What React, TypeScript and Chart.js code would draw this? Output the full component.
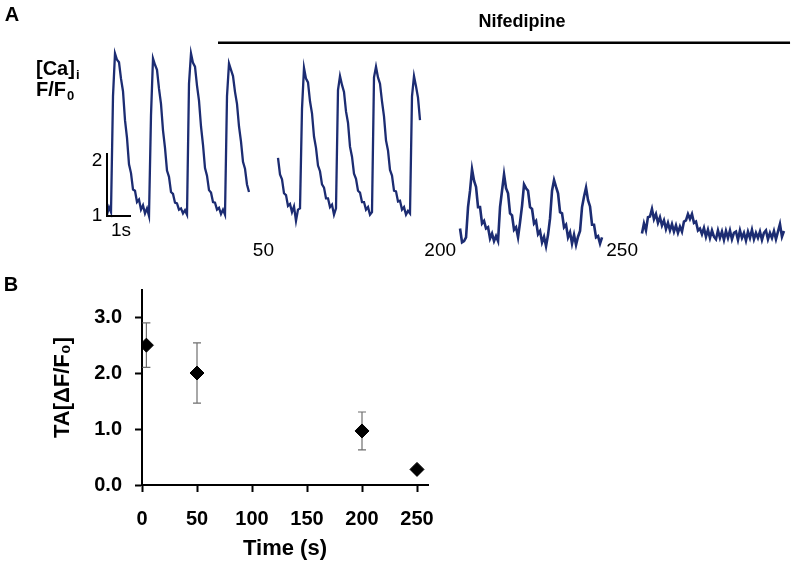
import React, { useEffect, useRef } from 'react';
import { Chart, registerables } from 'chart.js';

Chart.register(...registerables);

// ---------- Panel A: [Ca]i transients (F/F0), sampled every 1/12 s ----------
const SAMPLE_STEP = 1 / 12;
const traceStarts = [0, 7.125, 14.71, 22.29]; // display position of each segment (s)
const traceLabels = ['', '50', '200', '250'];

const ratioControl = [
  1.02, 1.14, 1.06, 2.9, 3.58, 3.48, 3.44, 3.18, 2.98, 2.52, 2.24, 1.82, 1.68, 1.42, 1.4, 1.22, 1.26, 1.1, 1.17, 1.04, 1.12, 1.0,
  2.6, 3.5, 3.4, 3.32, 3.02, 2.78, 2.36, 2.08, 1.72, 1.62, 1.38, 1.35, 1.21, 1.2, 1.1, 1.12, 1.04, 1.09, 1.02,
  3.1, 3.58, 3.43, 3.37, 3.07, 2.83, 2.42, 2.13, 1.76, 1.64, 1.41, 1.37, 1.22, 1.21, 1.1, 1.13, 1.03, 1.1, 1.02,
  2.9, 3.42, 3.32, 3.22, 2.97, 2.78, 2.42, 2.18, 1.86, 1.75, 1.5, 1.38,
];

const ratio50 = [
  1.92, 1.66, 1.58, 1.36, 1.33, 1.16, 1.19, 1.06, 1.15, 0.92, 1.1, 1.12,
  2.7, 3.35, 3.18, 3.12, 2.82, 2.63, 2.26, 2.08, 1.8, 1.71, 1.5, 1.45, 1.28, 1.28, 1.14, 1.18, 1.02, 1.12,
  3.0, 3.22, 3.08, 2.97, 2.66, 2.48, 2.1, 1.94, 1.67, 1.59, 1.4, 1.37, 1.22, 1.22, 1.1, 1.14, 1.02, 1.06,
  3.2, 3.37, 3.2, 3.1, 2.82, 2.58, 2.2, 2.04, 1.73, 1.64, 1.4, 1.39, 1.23, 1.24, 1.1, 1.14, 1.02, 1.08, 1.04,
  2.9, 3.22, 3.06, 2.88, 2.52,
];

const ratio200 = [
  0.8, 0.58, 0.6, 0.66, 1.14, 1.4, 1.74, 1.56, 1.46, 1.14, 1.14, 0.88, 0.92, 0.8, 0.82, 0.64, 0.72, 0.6, 0.68, 0.6,
  1.14, 1.4, 1.66, 1.44, 1.36, 1.04, 1.01, 0.78, 0.82, 0.66,
  0.9, 1.16, 1.5, 1.44, 1.4, 1.14, 1.11, 0.88, 0.92, 0.71, 0.76, 0.58, 0.67, 0.52, 0.7,
  0.96, 1.4, 1.57, 1.46, 1.36, 1.06, 1.04, 0.82, 0.86, 0.66, 0.74, 0.56, 0.7, 0.54, 0.67,
  0.76, 1.14, 1.31, 1.45, 1.25, 1.15, 0.86, 0.86, 0.66, 0.68, 0.56, 0.66,
];

const ratio250 = [
  0.72, 0.88, 0.77, 0.98, 0.99, 1.11, 0.95, 1.03, 0.89, 0.98, 0.85, 0.93, 0.79, 0.89, 0.77, 0.87, 0.75, 0.85, 0.73, 0.83,
  0.75, 0.91, 0.93, 1.03, 0.95, 1.03, 0.89, 0.91, 0.77, 0.8, 0.71, 0.81, 0.67, 0.78, 0.65, 0.77, 0.67, 0.63, 0.77, 0.65,
  0.75, 0.62, 0.76, 0.65, 0.77, 0.63, 0.73, 0.75, 0.62, 0.77, 0.65, 0.73, 0.61, 0.75, 0.65, 0.78, 0.63, 0.73, 0.65, 0.75,
  0.62, 0.73, 0.77, 0.63, 0.73, 0.65, 0.76, 0.63, 0.75, 0.87, 0.67, 0.76,
];

const traces = [ratioControl, ratio50, ratio200, ratio250];

// ---------- Panel B: transient amplitude vs time ----------
const timePoints = [4, 50, 200, 250];
const taMeans = [2.51, 2.01, 0.97, 0.28];
const taErrors = [0.4, 0.54, 0.34, 0.04];
const timeTicks = [0, 50, 100, 150, 200, 250];
const taTicks = [0, 1, 2, 3];

const TRACE_COLOR = '#1c2c72';
const FONT = '"Liberation Sans", Arial, sans-serif';

const panelAPlugin = {
  id: 'panelA',
  afterDraw(chart: any) {
    const { ctx, scales } = chart;
    const x = scales.x;
    const y = scales.y;
    ctx.save();
    ctx.fillStyle = '#000';
    ctx.strokeStyle = '#000';

    // panel letter
    ctx.font = `bold 20px ${FONT}`;
    ctx.textAlign = 'center';
    ctx.textBaseline = 'middle';
    ctx.fillText('A', 12, 15);

    // axis label [Ca]i  F/F0
    ctx.textAlign = 'left';
    ctx.textBaseline = 'alphabetic';
    ctx.font = `bold 20px ${FONT}`;
    ctx.fillText('[Ca]', 36, 75);
    let w = ctx.measureText('[Ca]').width;
    ctx.font = `bold 13px ${FONT}`;
    ctx.fillText('i', 36 + w + 1, 79);
    ctx.font = `bold 20px ${FONT}`;
    ctx.fillText('F/F', 36, 96);
    w = ctx.measureText('F/F').width;
    ctx.font = `bold 13px ${FONT}`;
    ctx.fillText('0', 36 + w + 1, 100);

    // scale bars
    const x0 = x.getPixelForValue(0);
    const x1 = x.getPixelForValue(1);
    const y1 = y.getPixelForValue(1);
    const y2 = y.getPixelForValue(2);
    ctx.lineWidth = 2;
    ctx.beginPath();
    ctx.moveTo(x0, y2);
    ctx.lineTo(x0, y1);
    ctx.lineTo(x1, y1);
    ctx.stroke();

    ctx.font = `19px ${FONT}`;
    ctx.textAlign = 'center';
    ctx.textBaseline = 'middle';
    ctx.fillText('2', x0 - 10, y2 + 8);
    ctx.fillText('1', x0 - 10, y1);
    ctx.fillText('1s', x0 + 14, y1 + 15);

    // segment time labels
    ctx.textAlign = 'right';
    traceStarts.forEach((s, i) => {
      if (!traceLabels[i]) return;
      ctx.fillText(traceLabels[i], x.getPixelForValue(s) - 4, y1 + 35);
    });

    // Nifedipine bar
    const nx0 = x.getPixelForValue(4.625);
    const nx1 = x.getPixelForValue(28.46);
    const ny = y.getPixelForValue(3.75);
    ctx.lineWidth = 2.5;
    ctx.beginPath();
    ctx.moveTo(nx0, ny);
    ctx.lineTo(nx1, ny);
    ctx.stroke();
    ctx.font = `bold 18px ${FONT}`;
    ctx.textAlign = 'center';
    ctx.fillText('Nifedipine', 522, ny - 21);
    ctx.restore();
  },
};

const errorBarPlugin = {
  id: 'errorBars',
  beforeDatasetsDraw(chart: any) {
    const { ctx, scales } = chart;
    const x = scales.x;
    const y = scales.y;
    ctx.save();
    ctx.strokeStyle = '#6f6f6f';
    ctx.lineWidth = 1.2;
    timePoints.forEach((t, i) => {
      const px = x.getPixelForValue(t);
      const top = y.getPixelForValue(taMeans[i] + taErrors[i]);
      const bot = y.getPixelForValue(taMeans[i] - taErrors[i]);
      ctx.beginPath();
      ctx.moveTo(px, top);
      ctx.lineTo(px, bot);
      ctx.moveTo(px - 4, top);
      ctx.lineTo(px + 4, top);
      ctx.moveTo(px - 4, bot);
      ctx.lineTo(px + 4, bot);
      ctx.stroke();
    });
    ctx.restore();
  },
  afterDraw(chart: any) {
    const { ctx } = chart;
    ctx.save();
    ctx.fillStyle = '#000';
    ctx.font = `bold 20px ${FONT}`;
    ctx.textAlign = 'center';
    ctx.textBaseline = 'middle';
    ctx.fillText('B', 11, 15);
    ctx.restore();
  },
};

export default function App() {
  const refA = useRef<HTMLCanvasElement | null>(null);
  const refB = useRef<HTMLCanvasElement | null>(null);

  useEffect(() => {
    const chartA = new Chart(refA.current as HTMLCanvasElement, {
      type: 'line',
      data: {
        datasets: traces.map((vals, k) => ({
          label: traceLabels[k] || 'control',
          data: vals.map((v, i) => ({ x: traceStarts[k] + i * SAMPLE_STEP, y: v })),
          borderColor: TRACE_COLOR,
          borderWidth: k < 2 ? 2.3 : 2.6,
          pointRadius: 0,
          tension: 0,
          fill: false,
        })),
      },
      options: {
        animation: false,
        responsive: false,
        devicePixelRatio: 1,
        layout: { padding: { left: 100, right: 8, top: 27, bottom: 10 } },
        plugins: { legend: { display: false }, tooltip: { enabled: false } },
        scales: {
          x: { type: 'linear', display: false, min: -7 / 24, max: 685 / 24 },
          y: { type: 'linear', display: false, min: 0.3, max: 4.0 },
        },
      },
      plugins: [panelAPlugin],
    } as any);

    const tickFont = { family: FONT, size: 20, weight: 'bold' as const };
    const titleFont = { family: FONT, size: 22, weight: 'bold' as const };
    const chartB = new Chart(refB.current as HTMLCanvasElement, {
      type: 'scatter',
      data: {
        datasets: [
          {
            label: 'TA',
            data: timePoints.map((t, i) => ({ x: t, y: taMeans[i] })),
            pointStyle: 'rectRot',
            pointRadius: 7,
            backgroundColor: '#000',
            borderColor: '#000',
            borderWidth: 1,
          },
        ],
      },
      options: {
        animation: false,
        responsive: false,
        devicePixelRatio: 1,
        layout: { padding: { left: 0, right: 22, top: 20, bottom: 0 } },
        plugins: { legend: { display: false }, tooltip: { enabled: false } },
        scales: {
          x: {
            type: 'linear',
            min: 0,
            max: 260,
            afterBuildTicks: (s: any) => {
              s.ticks = timeTicks.map((v) => ({ value: v }));
            },
            afterFit: (s: any) => {
              s.height = 82;
              s.paddingLeft = 0;
              s.paddingRight = 0;
            },
            ticks: { font: tickFont, color: '#000', padding: 15, maxRotation: 0 },
            grid: { drawOnChartArea: false, tickLength: 7, tickColor: '#000', tickWidth: 2 },
            border: { color: '#000', width: 2 },
            title: {
              display: true,
              text: 'Time (s)',
              color: '#000',
              font: titleFont,
              padding: { top: 0, bottom: 5 },
            },
          },
          y: {
            type: 'linear',
            min: 0,
            max: 3.5,
            afterBuildTicks: (s: any) => {
              s.ticks = taTicks.map((v) => ({ value: v }));
            },
            afterFit: (s: any) => {
              s.width = 142;
              s.paddingTop = 0;
              s.paddingBottom = 0;
            },
            ticks: {
              font: tickFont,
              color: '#000',
              padding: 13,
              callback: (v: any) => Number(v).toFixed(1),
            },
            grid: { drawOnChartArea: false, tickLength: 7, tickColor: '#000', tickWidth: 2 },
            border: { color: '#000', width: 2 },
            title: {
              display: true,
              text: 'TA[ΔF/F₀]',
              color: '#000',
              font: titleFont,
              padding: { top: 50, bottom: 0 },
            },
          },
        },
      },
      plugins: [errorBarPlugin],
    } as any);

    return () => {
      chartA.destroy();
      chartB.destroy();
    };
  }, []);

  return (
    <div
      style={{
        position: 'absolute',
        left: 0,
        top: 0,
        width: 800,
        height: 567,
        background: '#fff',
        overflow: 'hidden',
      }}
    >
      <canvas ref={refA} width={800} height={270} style={{ position: 'absolute', left: 0, top: 0 }} />
      <canvas ref={refB} width={450} height={297} style={{ position: 'absolute', left: 0, top: 270 }} />
    </div>
  );
}
